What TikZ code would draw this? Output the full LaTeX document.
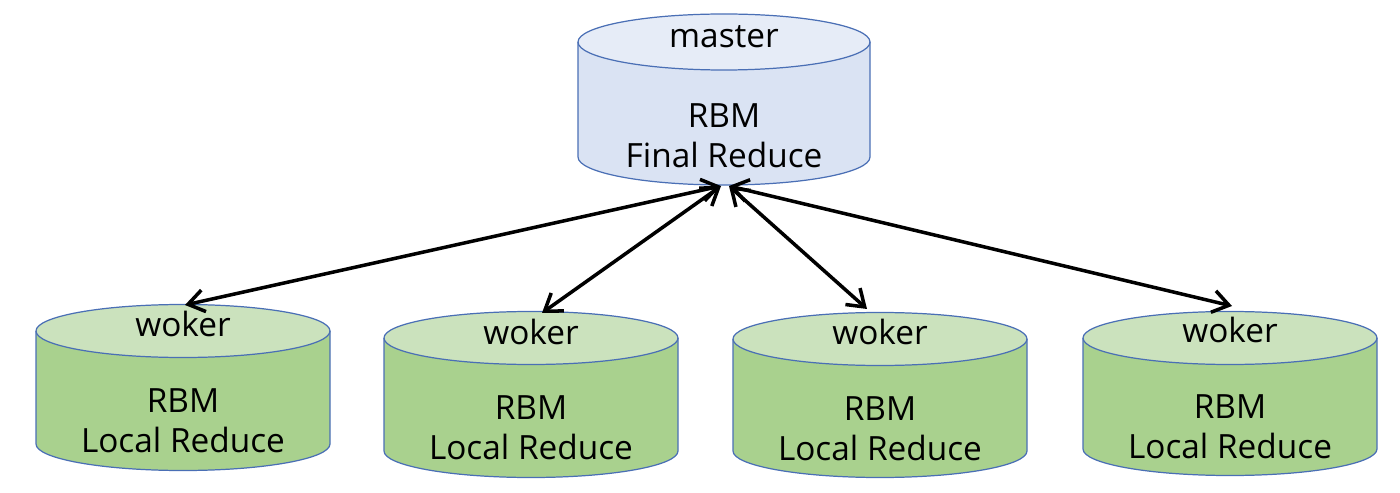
\documentclass[tikz,border=0pt]{standalone}
\usepackage{fontspec}
\setmainfont{Open Sans}
\usepackage{xcolor}
\usetikzlibrary{arrows.meta}

\definecolor{rimblue}{HTML}{4A6FB5}
\definecolor{masterbody}{HTML}{DAE3F3}
\definecolor{mastertop}{HTML}{E6ECF7}
\definecolor{wokerbody}{HTML}{A9D18E}
\definecolor{wokertop}{HTML}{CBE2BD}

\tikzset{
  rim/.style={draw=rimblue, line width=0.7pt},
  label/.style={inner sep=0pt, font=\fontsize{19}{22.5}\selectfont, align=center},
  link/.style={{Straight Barb[length=3.2mm,width=4.4mm]}-{Straight Barb[length=3.2mm,width=4.4mm]}, line width=2pt}
}

\begin{document}
\begin{tikzpicture}[x=0.02cm, y=-0.02cm]
\useasboundingbox (0,0) rectangle (1400,493);

% master
\fill[masterbody] (578,42) -- (578,157) arc[start angle=180, end angle=0, x radius=146, y radius=28] -- (870,42) -- cycle;
\fill[mastertop] (724,42) ellipse [x radius=146, y radius=28];
\draw[rim] (578,42) -- (578,157) arc[start angle=180, end angle=0, x radius=146, y radius=28] -- (870,42);
\draw[rim] (724,42) ellipse [x radius=146, y radius=28];
\node[label] (master) at (724,37) {master};
\node[label] (final) at (724,136) {RBM\\Final Reduce};
\coordinate (mL) at (721,186);
\coordinate (mR) at (729,186);

% workers
\foreach \n/\cx/\ty/\by/\tx/\tp/\wy/\ly in {1/183/331/444/185/305/324/421,
    2/531/338/451/542/313/332/428, 3/880/339/451/867/309/332/429,
    4/1230/338/449/1232/306/330/427} {
  \fill[wokerbody] (\cx-147,\ty) -- (\cx-147,\by) arc[start angle=180, end angle=0, x radius=147, y radius=26.5] -- (\cx+147,\ty) -- cycle;
  \fill[wokertop] (\cx,\ty) ellipse [x radius=147, y radius=26.5];
  \draw[rim] (\cx-147,\ty) -- (\cx-147,\by) arc[start angle=180, end angle=0, x radius=147, y radius=26.5] -- (\cx+147,\ty);
  \draw[rim] (\cx,\ty) ellipse [x radius=147, y radius=26.5];
  \node[label] (woker\n) at (\cx,\wy) {woker};
  \node[label] (local\n) at (\cx,\ly) {RBM\\Local Reduce};
  \coordinate (tip\n) at (\tx,\tp);
}

\draw[link] (mL) -- (tip1);
\draw[link] (mL) -- (tip2);
\draw[link] (mR) -- (tip3);
\draw[link] (mR) -- (tip4);
\end{tikzpicture}
\end{document}
